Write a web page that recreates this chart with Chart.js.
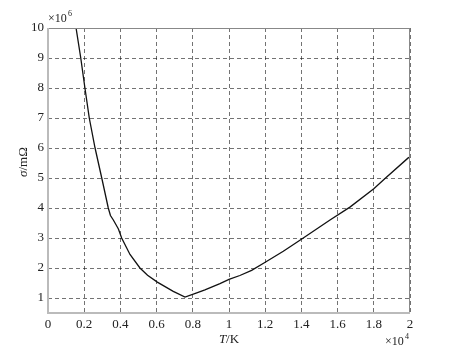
<!DOCTYPE html>
<html lang="">
  <head>
    <meta charset="utf-8">
    <title>sigma vs T</title>
    <style> body {padding: 0; margin: 0; background: #fff;} </style>
    <script src="https://cdn.jsdelivr.net/npm/chart.js@4/dist/chart.umd.min.js"></script>
  </head>
  <body>
    <div style="position: relative; width:462px; height:355px">
      <canvas id="sigmaChart"></canvas>
    </div>
    <script>
      // T in units of 1e4 K, sigma in units of 1e6 mOhm
      var tValues = [0.155, 0.181, 0.204, 0.228, 0.26, 0.297, 0.333, 0.345, 0.361, 0.389, 0.407, 0.453,
                     0.508, 0.55, 0.604, 0.692, 0.757, 0.822, 0.867, 0.95, 1.0, 1.06, 1.125, 1.2, 1.3,
                     1.4, 1.558, 1.668, 1.8, 1.862, 1.99, 2.0];
      var sigmaValues = [10, 9, 8, 7, 6, 5, 4, 3.75, 3.6, 3.3, 3.0, 2.45,
                         2.0, 1.76, 1.53, 1.22, 1.03, 1.17, 1.27, 1.48, 1.62, 1.75, 1.92, 2.19, 2.56,
                         2.96, 3.6, 4.03, 4.64, 4.98, 5.67, 5.7];
      var xTicks = [0, 0.2, 0.4, 0.6, 0.8, 1, 1.2, 1.4, 1.6, 1.8, 2];
      var yTicks = [1, 2, 3, 4, 5, 6, 7, 8, 9, 10];

      var points = [];
      for (i = 0; i < tValues.length; i++) {
        points.push({x: tValues[i], y: sigmaValues[i]});
      }

      var serif = "'Liberation Serif', 'DejaVu Serif', serif";

      // axis titles, exponent labels and frame
      var extras = {
        id: 'extras',
        afterDraw(chart) {
          var c = chart.ctx;
          var a = chart.chartArea;
          c.save();
          c.strokeStyle = '#888';
          c.lineWidth = 1;
          c.strokeRect(a.left + 0.5, a.top + 0.5, a.right - a.left - 1, a.bottom - a.top - 1);
          c.strokeStyle = '#bbb';
          c.lineWidth = 2;
          c.beginPath();
          c.moveTo(a.left, a.top);
          c.lineTo(a.left, a.bottom);
          c.lineTo(a.right, a.bottom);
          c.stroke();

          c.fillStyle = '#222';
          c.textBaseline = 'middle';
          // x title
          c.textAlign = 'left';
          c.font = 'italic 13px ' + serif;
          var w1 = c.measureText('T').width;
          c.font = '13px ' + serif;
          var w2 = c.measureText('/K').width;
          var x0 = 229 - (w1 + w2) / 2;
          c.font = 'italic 13px ' + serif;
          c.fillText('T', x0, 340);
          c.font = '13px ' + serif;
          c.fillText('/K', x0 + w1, 340);

          // y title
          c.translate(24, 162);
          c.rotate(-Math.PI / 2);
          c.font = 'italic 13px ' + serif;
          var s1 = c.measureText('σ').width;
          c.font = '13px ' + serif;
          var s2 = c.measureText('/mΩ').width;
          var y0 = -(s1 + s2) / 2;
          c.font = 'italic 13px ' + serif;
          c.fillText('σ', y0, 0);
          c.font = '13px ' + serif;
          c.fillText('/mΩ', y0 + s1, 0);
          c.setTransform(1, 0, 0, 1, 0, 0);

          // exponents
          c.font = '12px ' + serif;
          c.fillText('×10', 48, 19);
          c.font = '8px ' + serif;
          c.fillText('6', 48 + 20, 14);
          c.font = '12px ' + serif;
          c.fillText('×10', 385, 342);
          c.font = '8px ' + serif;
          c.fillText('4', 385 + 20, 337);
          c.restore();
        }
      };

      var ctx = document.getElementById('sigmaChart').getContext('2d');
      var myChart = new Chart(ctx, {
        type: 'scatter',
        data: {
          datasets: [{
            data: points,
            showLine: true,
            borderColor: '#111',
            borderWidth: 1.3,
            pointRadius: 0,
            tension: 0
          }]
        },
        options: {
          responsive: true,
          maintainAspectRatio: false,
          animation: false,
          layout: {padding: {top: 28, right: 52, left: 0, bottom: 0}},
          plugins: {legend: {display: false}, tooltip: {enabled: false}},
          scales: {
            x: {
              type: 'linear',
              min: 0,
              max: 2,
              afterFit: function(scale) { scale.height = 42; },
              afterBuildTicks: function(scale) {
                scale.ticks = xTicks.map(function(v) { return {value: v}; });
              },
              ticks: {
                color: '#222',
                font: {family: serif, size: 13},
                padding: 4,
                maxRotation: 0,
                autoSkip: false,
                callback: function(v) { return String(v); }
              },
              grid: {color: 'rgba(0,0,0,0.55)', drawTicks: false},
              border: {display: false, dash: [4, 3]}
            },
            y: {
              type: 'linear',
              min: 0.5,
              max: 10,
              afterFit: function(scale) { scale.width = 48; },
              afterBuildTicks: function(scale) {
                scale.ticks = yTicks.map(function(v) { return {value: v}; });
              },
              ticks: {
                color: '#222',
                font: {family: serif, size: 13},
                padding: 4,
                autoSkip: false,
                callback: function(v) { return String(v); }
              },
              grid: {color: 'rgba(0,0,0,0.55)', drawTicks: false},
              border: {display: false, dash: [4, 3]}
            }
          }
        },
        plugins: [extras]
      });
    </script>
  </body>
</html>
